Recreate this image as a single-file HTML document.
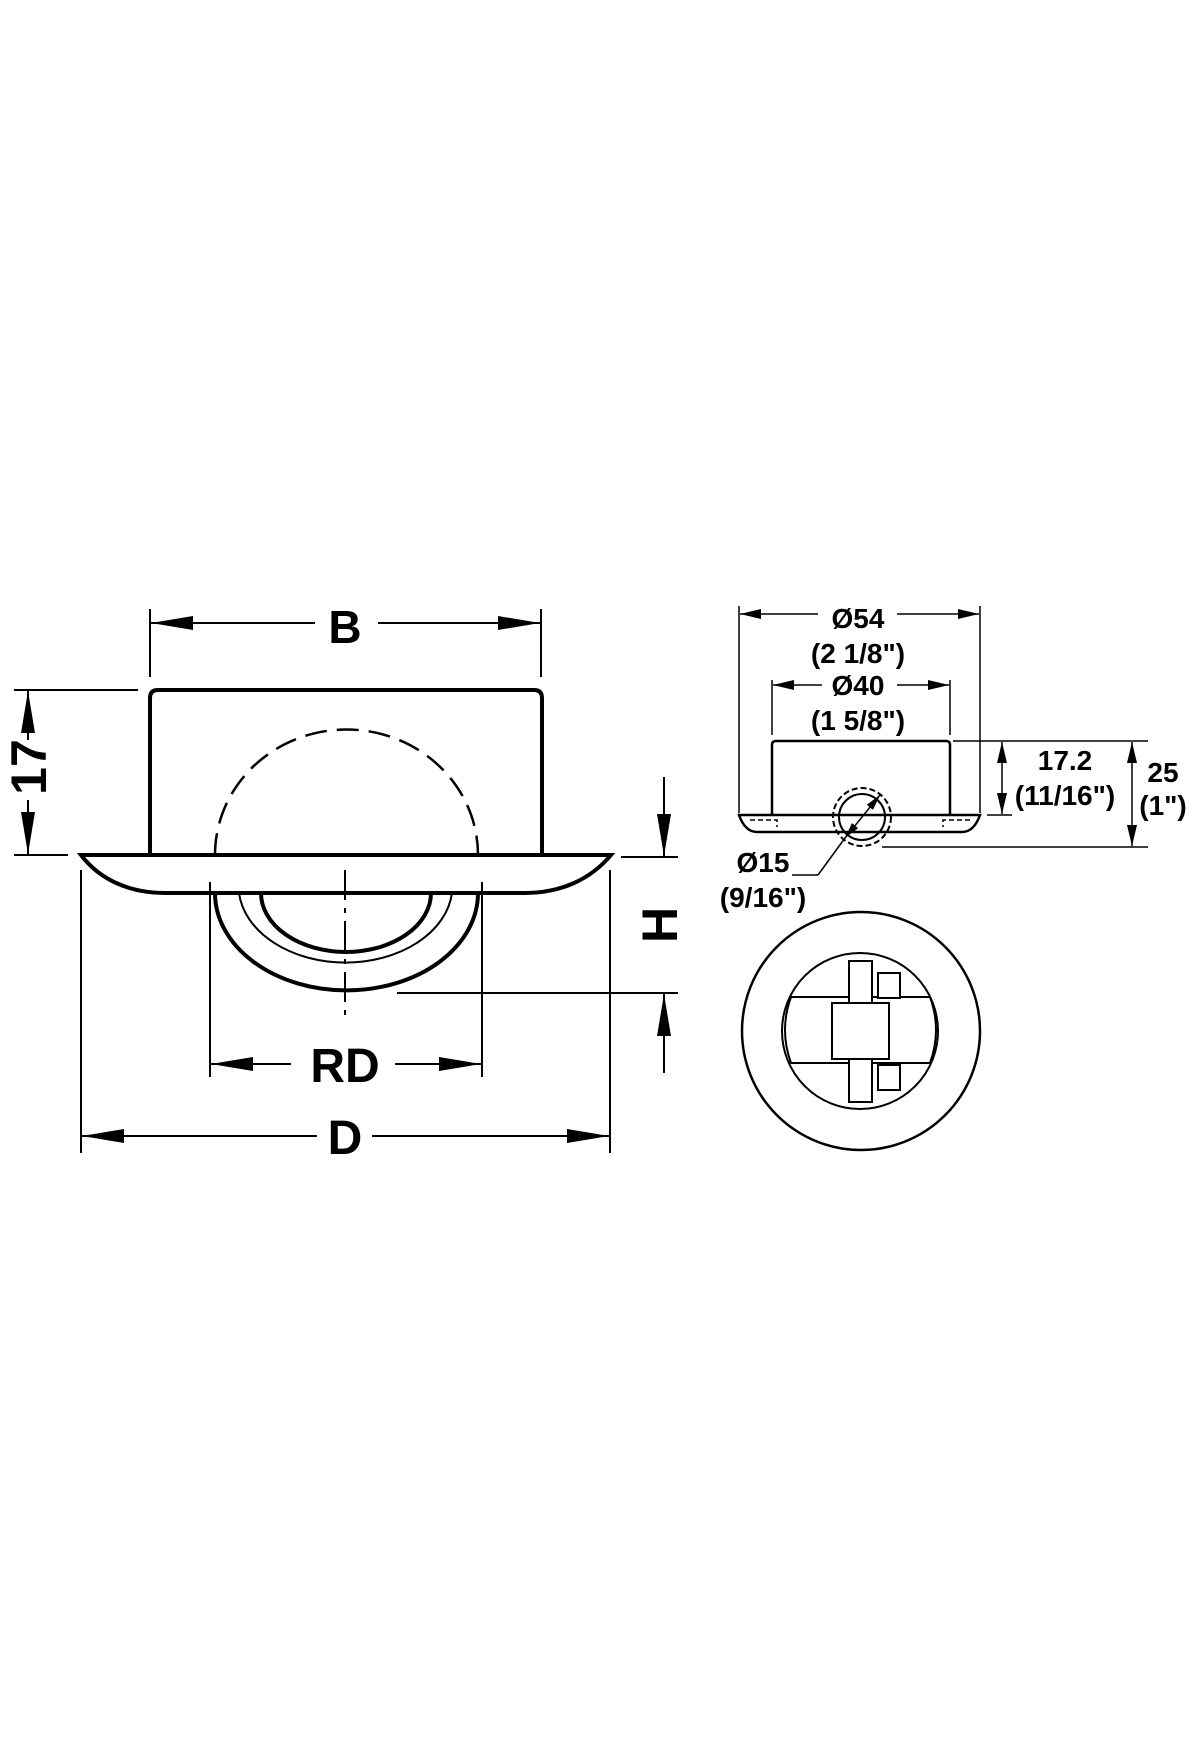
<!DOCTYPE html>
<html><head><meta charset="utf-8"><style>
html,body{margin:0;padding:0;background:#fff;}
svg{display:block;}
text{font-family:"Liberation Sans",Arial,sans-serif;font-weight:bold;fill:#000;}
</style></head><body>
<svg width="1200" height="1760" viewBox="0 0 1200 1760" xmlns="http://www.w3.org/2000/svg">
<defs>
<marker id="a" viewBox="0 0 42 14" refX="42" refY="7" markerWidth="42" markerHeight="14" markerUnits="userSpaceOnUse" orient="auto"><path d="M0,0 L42,7 L0,14 Z" fill="#000"/></marker>
<marker id="s" viewBox="0 0 21 10" refX="21" refY="5" markerWidth="21" markerHeight="10" markerUnits="userSpaceOnUse" orient="auto"><path d="M0,0 L21,5 L0,10 Z" fill="#000"/></marker>
<marker id="t" viewBox="0 0 16 8" refX="16" refY="4" markerWidth="16" markerHeight="8" markerUnits="userSpaceOnUse" orient="auto"><path d="M0,0 L16,4 L0,8 Z" fill="#000"/></marker>
</defs>
<g stroke="#000" fill="none">
<!-- LEFT VIEW -->
<path d="M150,855 L150,698 Q150,690 158,690 L534,690 Q542,690 542,698 L542,855" stroke-width="4"/>
<path d="M215,855 A131,125 0 0 1 478,855" stroke-width="2.5" stroke-dasharray="22,10"/>
<path d="M81,855 L611,855 C590,880 560,893 525,893 L165,893 C130,893 100,880 81,855 Z" stroke-width="4" fill="#fff"/>
<path d="M215,893 A131,97 0 0 0 478,893" stroke-width="4"/>
<path d="M239,893 A107,77 0 0 0 452,893" stroke-width="2"/>
<path d="M261,893 A85,59 0 0 0 431,893" stroke-width="4"/>
<path d="M345,870 L345,1023" stroke-width="2" stroke-dasharray="30,8,5,8"/>
<!-- B -->
<line x1="150" y1="609" x2="150" y2="677" stroke-width="2"/>
<line x1="541" y1="609" x2="541" y2="677" stroke-width="2"/>
<line x1="315" y1="623" x2="151" y2="623" stroke-width="2" marker-end="url(#a)"/>
<line x1="378" y1="623" x2="540" y2="623" stroke-width="2" marker-end="url(#a)"/>
<!-- 17 -->
<line x1="14" y1="690" x2="138" y2="690" stroke-width="2"/>
<line x1="14" y1="855" x2="68" y2="855" stroke-width="2"/>
<line x1="28" y1="740" x2="28" y2="691" stroke-width="2" marker-end="url(#a)"/>
<line x1="28" y1="800" x2="28" y2="854" stroke-width="2" marker-end="url(#a)"/>
<!-- H -->
<line x1="621" y1="857" x2="678" y2="857" stroke-width="2"/>
<line x1="397" y1="993" x2="678" y2="993" stroke-width="2"/>
<line x1="664" y1="777" x2="664" y2="856" stroke-width="2" marker-end="url(#a)"/>
<line x1="664" y1="1073" x2="664" y2="994" stroke-width="2" marker-end="url(#a)"/>
<!-- RD -->
<line x1="210" y1="882" x2="210" y2="1077" stroke-width="2"/>
<line x1="482" y1="882" x2="482" y2="1077" stroke-width="2"/>
<line x1="291" y1="1064" x2="211" y2="1064" stroke-width="2" marker-end="url(#a)"/>
<line x1="395" y1="1064" x2="481" y2="1064" stroke-width="2" marker-end="url(#a)"/>
<!-- D -->
<line x1="81" y1="870" x2="81" y2="1153" stroke-width="2"/>
<line x1="610" y1="870" x2="610" y2="1153" stroke-width="2"/>
<line x1="317" y1="1136" x2="82" y2="1136" stroke-width="2" marker-end="url(#a)"/>
<line x1="372" y1="1136" x2="609" y2="1136" stroke-width="2" marker-end="url(#a)"/>

<!-- RIGHT SIDE VIEW -->
<path d="M772,815 L772,745 Q772,741 776,741 L946,741 Q950,741 950,745 L950,815" stroke-width="2.5"/>
<path d="M739,815 L980,815 Q974,832 962,832 L757,832 Q745,832 739,815 Z" stroke-width="2.5" fill="#fff"/>
<path d="M750,820 L777,820 L777,827 M970,820 L943,820 L943,827" stroke-width="1.5" stroke-dasharray="5,3"/>
<circle cx="862" cy="817" r="23" stroke-width="2"/>
<circle cx="862" cy="817" r="29" stroke-width="2" stroke-dasharray="6,3"/>
<line x1="792" y1="875" x2="818" y2="875" stroke-width="1.5"/>
<line x1="818" y1="875" x2="845" y2="838" stroke-width="1.5"/>
<line x1="862" y1="817" x2="845" y2="838" stroke-width="1.5" marker-end="url(#t)"/>
<line x1="862" y1="817" x2="880" y2="795" stroke-width="1.5" marker-end="url(#t)"/>
<!-- Ø54 -->
<line x1="739" y1="606" x2="739" y2="813" stroke-width="1.5"/>
<line x1="980" y1="606" x2="980" y2="813" stroke-width="1.5"/>
<line x1="818" y1="614" x2="740" y2="614" stroke-width="1.5" marker-end="url(#s)"/>
<line x1="897" y1="614" x2="979" y2="614" stroke-width="1.5" marker-end="url(#s)"/>
<!-- Ø40 -->
<line x1="772" y1="680" x2="772" y2="735" stroke-width="1.5"/>
<line x1="950" y1="680" x2="950" y2="735" stroke-width="1.5"/>
<line x1="822" y1="685" x2="773" y2="685" stroke-width="1.5" marker-end="url(#s)"/>
<line x1="897" y1="685" x2="949" y2="685" stroke-width="1.5" marker-end="url(#s)"/>
<!-- 17.2 / 25 -->
<line x1="953" y1="741" x2="1148" y2="741" stroke-width="1.5"/>
<line x1="987" y1="815" x2="1012" y2="815" stroke-width="1.5"/>
<line x1="882" y1="847" x2="1148" y2="847" stroke-width="1.5"/>
<line x1="1002" y1="778" x2="1002" y2="742" stroke-width="1.5" marker-end="url(#s)"/>
<line x1="1002" y1="778" x2="1002" y2="814" stroke-width="1.5" marker-end="url(#s)"/>
<line x1="1132" y1="794" x2="1132" y2="742" stroke-width="1.5" marker-end="url(#s)"/>
<line x1="1132" y1="794" x2="1132" y2="846" stroke-width="1.5" marker-end="url(#s)"/>

<!-- BOTTOM VIEW -->
<circle cx="861" cy="1031" r="119" stroke-width="2.5"/>
<circle cx="860" cy="1031" r="78" stroke-width="2"/>
<path d="M791,997 L930,997 Q942,1030 930,1063 L791,1063 Q779,1030 791,997 Z" stroke-width="2" fill="#fff"/>
<rect x="849" y="961" width="23" height="141" stroke-width="2" fill="#fff"/>
<rect x="878" y="973" width="22" height="25" stroke-width="2" fill="#fff"/>
<rect x="878" y="1065" width="22" height="25" stroke-width="2" fill="#fff"/>
<rect x="832" y="1003" width="57" height="56" stroke-width="2" fill="#fff"/>
</g>
<!-- labels -->
<text x="345" y="643" font-size="46" text-anchor="middle">B</text>
<text x="345" y="1082" font-size="48" text-anchor="middle">RD</text>
<text x="345" y="1154" font-size="48" text-anchor="middle">D</text>
<text transform="translate(46,767) rotate(-90)" font-size="50" text-anchor="middle">17</text>
<text transform="translate(677,925) rotate(-90)" font-size="50" text-anchor="middle">H</text>
<text x="858" y="628" font-size="28" text-anchor="middle">Ø54</text>
<text x="858" y="663" font-size="28" text-anchor="middle">(2 1/8")</text>
<text x="858" y="695" font-size="28" text-anchor="middle">Ø40</text>
<text x="858" y="730" font-size="28" text-anchor="middle">(1 5/8")</text>
<text x="1065" y="770" font-size="28" text-anchor="middle">17.2</text>
<text x="1065" y="805" font-size="28" text-anchor="middle">(11/16")</text>
<text x="1163" y="782" font-size="28" text-anchor="middle">25</text>
<text x="1163" y="815" font-size="28" text-anchor="middle">(1")</text>
<text x="763" y="872" font-size="28" text-anchor="middle">Ø15</text>
<text x="763" y="907" font-size="28" text-anchor="middle">(9/16")</text>
</svg>
</body></html>
